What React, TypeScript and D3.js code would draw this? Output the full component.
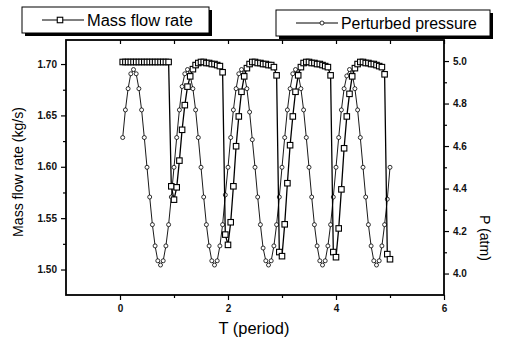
import React, { useRef, useEffect } from 'react';
import * as d3 from 'd3';

// time grid, T (period)
const periods = [
  0.05, 0.1, 0.15, 0.2, 0.25, 0.3, 0.35, 0.4, 0.45, 0.5, 0.55, 0.6, 0.65, 0.7, 0.75, 0.8, 0.85, 0.9, 0.95, 1.0,
  1.05, 1.1, 1.15, 1.2, 1.25, 1.3, 1.35, 1.4, 1.45, 1.5, 1.55, 1.6, 1.65, 1.7, 1.75, 1.8, 1.85, 1.9, 1.95, 2.0,
  2.05, 2.1, 2.15, 2.2, 2.25, 2.3, 2.35, 2.4, 2.45, 2.5, 2.55, 2.6, 2.65, 2.7, 2.75, 2.8, 2.85, 2.9, 2.95, 3.0,
  3.05, 3.1, 3.15, 3.2, 3.25, 3.3, 3.35, 3.4, 3.45, 3.5, 3.55, 3.6, 3.65, 3.7, 3.75, 3.8, 3.85, 3.9, 3.95, 4.0,
  4.05, 4.1, 4.15, 4.2, 4.25, 4.3, 4.35, 4.4, 4.45, 4.5, 4.55, 4.6, 4.65, 4.7, 4.75, 4.8, 4.85, 4.9, 4.95, 5.0,
];

// mass flow rate (kg/s)
const massFlow = [
  1.702, 1.702, 1.702, 1.702, 1.702, 1.702, 1.702, 1.702, 1.702, 1.702, 1.702, 1.702, 1.702, 1.702, 1.702, 1.702, 1.702, 1.702, 1.581, 1.568,
  1.580, 1.606, 1.636, 1.660, 1.678, 1.688, 1.695, 1.699, 1.701, 1.702, 1.702, 1.701, 1.701, 1.700, 1.700, 1.699, 1.698, 1.692, 1.534, 1.524,
  1.546, 1.581, 1.620, 1.649, 1.673, 1.688, 1.696, 1.700, 1.702, 1.702, 1.701, 1.701, 1.700, 1.700, 1.699, 1.699, 1.697, 1.689, 1.517, 1.513,
  1.544, 1.584, 1.621, 1.649, 1.673, 1.689, 1.697, 1.701, 1.702, 1.702, 1.701, 1.701, 1.700, 1.700, 1.699, 1.698, 1.697, 1.689, 1.517, 1.512,
  1.540, 1.578, 1.618, 1.649, 1.671, 1.688, 1.696, 1.700, 1.702, 1.702, 1.701, 1.701, 1.700, 1.700, 1.699, 1.698, 1.697, 1.690, 1.515, 1.510,
];

// perturbed pressure (atm)
const pressure = [
  4.64, 4.77, 4.87, 4.94, 4.96, 4.94, 4.87, 4.77, 4.64, 4.50, 4.36, 4.23, 4.13, 4.06, 4.04, 4.06, 4.13, 4.23, 4.36, 4.50,
  4.64, 4.77, 4.88, 4.94, 4.96, 4.93, 4.87, 4.77, 4.64, 4.50, 4.36, 4.23, 4.13, 4.06, 4.04, 4.06, 4.13, 4.23, 4.37, 4.50,
  4.64, 4.77, 4.87, 4.94, 4.96, 4.94, 4.87, 4.76, 4.63, 4.50, 4.36, 4.23, 4.12, 4.06, 4.04, 4.06, 4.13, 4.23, 4.36, 4.50,
  4.64, 4.77, 4.87, 4.94, 4.96, 4.94, 4.87, 4.77, 4.64, 4.50, 4.36, 4.23, 4.13, 4.06, 4.04, 4.06, 4.13, 4.23, 4.36, 4.50,
  4.64, 4.77, 4.87, 4.93, 4.96, 4.94, 4.87, 4.77, 4.64, 4.50, 4.36, 4.23, 4.13, 4.06, 4.04, 4.06, 4.13, 4.23, 4.35, 4.50,
];

const xTicks = [0, 2, 4, 6];
const xMinorTicks = [1, 3, 5];
const flowTicks = [1.5, 1.55, 1.6, 1.65, 1.7];
const flowMinorTicks = [1.525, 1.575, 1.625, 1.675];
const pressureTicks = [4.0, 4.2, 4.4, 4.6, 4.8, 5.0];
const pressureMinorTicks = [4.1, 4.3, 4.5, 4.7, 4.9];

const W = 509;
const H = 343;
const FONT = 'Arial, "Liberation Sans", Helvetica, sans-serif';

// shrink/grow a text node's font size so it spans roughly `target` px
const fitText = (sel: any, size: number, target: number) => {
  const node = sel.node() as SVGTextElement;
  const w = node.getComputedTextLength();
  if (w > 0) sel.attr('font-size', (size * target) / w);
  return sel;
};

const App = () => {
  const ref = useRef<SVGSVGElement | null>(null);

  useEffect(() => {
    if (!ref.current) return;
    const svg = d3.select(ref.current);
    svg.selectAll('*').remove();

    const left = 66, right = 444, top = 40, bottom = 295;

    const x = d3.scaleLinear().domain([-1, 6]).range([left, right]);
    const yFlow = d3.scaleLinear().domain([1.4752, 1.7234]).range([bottom, top]);
    const yP = d3.scaleLinear().domain([3.899, 5.099]).range([bottom, top]);

    const styleAxis = (g: any) => {
      g.select('.domain').remove();
      g.selectAll('line').attr('stroke', '#000').attr('stroke-width', 1.2);
      g.selectAll('text')
        .attr('font-family', FONT)
        .attr('font-size', 10)
        .attr('font-weight', 'bold')
        .attr('fill', '#111');
    };

    // left axis
    svg.append('g')
      .attr('transform', `translate(${left},0)`)
      .call(d3.axisLeft(yFlow).tickValues(flowTicks).tickSize(5).tickPadding(4).tickFormat(d3.format('.2f')))
      .call(styleAxis);
    svg.append('g')
      .attr('transform', `translate(${left},0)`)
      .call(d3.axisLeft(yFlow).tickValues(flowMinorTicks).tickSize(3).tickFormat(() => ''))
      .call(styleAxis);

    // right axis
    svg.append('g')
      .attr('transform', `translate(${right},0)`)
      .call(d3.axisRight(yP).tickValues(pressureTicks).tickSize(5).tickPadding(4).tickFormat(d3.format('.1f')))
      .call(styleAxis);
    svg.append('g')
      .attr('transform', `translate(${right},0)`)
      .call(d3.axisRight(yP).tickValues(pressureMinorTicks).tickSize(3).tickFormat(() => ''))
      .call(styleAxis);

    // bottom axis
    svg.append('g')
      .attr('transform', `translate(0,${bottom})`)
      .call(d3.axisBottom(x).tickValues(xTicks).tickSize(5).tickPadding(5).tickFormat(d3.format('d')))
      .call(styleAxis);
    svg.append('g')
      .attr('transform', `translate(0,${bottom})`)
      .call(d3.axisBottom(x).tickValues(xMinorTicks).tickSize(3).tickFormat(() => ''))
      .call(styleAxis);

    // top axis, inward ticks
    svg.append('g')
      .attr('transform', `translate(0,${top})`)
      .call(d3.axisBottom(x).tickValues([...xTicks, ...xMinorTicks]).tickSize(4).tickFormat(() => ''))
      .call(styleAxis);

    // frame
    svg.append('rect')
      .attr('x', left).attr('y', top)
      .attr('width', right - left).attr('height', bottom - top)
      .attr('fill', 'none').attr('stroke', '#000').attr('stroke-width', 1.8);

    // pressure series
    const pLine = d3.line<number>().x((_, i) => x(periods[i])).y(d => yP(d));
    svg.append('path')
      .datum(pressure)
      .attr('d', pLine)
      .attr('fill', 'none').attr('stroke', '#000').attr('stroke-width', 0.9);
    svg.append('g').selectAll('circle')
      .data(pressure)
      .enter()
      .append('circle')
      .attr('cx', (_, i) => x(periods[i]))
      .attr('cy', d => yP(d))
      .attr('r', 2)
      .attr('fill', '#fff').attr('stroke', '#000').attr('stroke-width', 0.8);

    // mass flow series
    const fLine = d3.line<number>().x((_, i) => x(periods[i])).y(d => yFlow(d));
    svg.append('path')
      .datum(massFlow)
      .attr('d', fLine)
      .attr('fill', 'none').attr('stroke', '#000').attr('stroke-width', 1.3);
    const sq = 5.5;
    svg.append('g').selectAll('rect')
      .data(massFlow)
      .enter()
      .append('rect')
      .attr('x', (_, i) => x(periods[i]) - sq / 2)
      .attr('y', d => yFlow(d) - sq / 2)
      .attr('width', sq).attr('height', sq)
      .attr('fill', '#fff').attr('stroke', '#000').attr('stroke-width', 1.1);

    // axis titles
    fitText(svg.append('text')
      .attr('transform', 'translate(23,172) rotate(-90)')
      .attr('text-anchor', 'middle')
      .attr('font-family', FONT).attr('font-size', 14)
      .text('Mass flow rate (kg/s)'), 14, 130);
    fitText(svg.append('text')
      .attr('transform', 'translate(480,238) rotate(90)')
      .attr('text-anchor', 'middle')
      .attr('font-family', FONT).attr('font-size', 14)
      .text('P (atm)'), 14, 46);
    fitText(svg.append('text')
      .attr('x', 254).attr('y', 334)
      .attr('text-anchor', 'middle')
      .attr('font-family', FONT).attr('font-size', 15)
      .text('T (period)'), 15, 71);

    // legends
    const legend = (bx: number, by: number, bw: number, bh: number, label: string, square: boolean, textW: number) => {
      const g = svg.append('g');
      g.append('rect').attr('x', bx + 3).attr('y', by + 3).attr('width', bw).attr('height', bh).attr('fill', '#000');
      g.append('rect').attr('x', bx).attr('y', by).attr('width', bw).attr('height', bh)
        .attr('fill', '#fff').attr('stroke', '#000').attr('stroke-width', 1);
      const cy = by + bh / 2;
      g.append('line').attr('x1', bx + 20).attr('x2', bx + 62).attr('y1', cy).attr('y2', cy)
        .attr('stroke', '#000').attr('stroke-width', 1);
      if (square) {
        g.append('rect').attr('x', bx + 38 - 2.75).attr('y', cy - 2.75).attr('width', 5.5).attr('height', 5.5)
          .attr('fill', '#fff').attr('stroke', '#000').attr('stroke-width', 1.1);
      } else {
        g.append('circle').attr('cx', bx + 46).attr('cy', cy).attr('r', 2)
          .attr('fill', '#fff').attr('stroke', '#000').attr('stroke-width', 0.8);
      }
      fitText(g.append('text').attr('x', bx + 65).attr('y', cy + 5.5)
        .attr('font-family', FONT).attr('font-size', 16)
        .text(label), 16, textW);
    };
    legend(22, 7, 187, 26, 'Mass flow rate', true, 106);
    legend(276, 10, 214, 26, 'Perturbed pressure', false, 136);
  }, []);

  return (
    <svg ref={ref} width={W} height={H} style={{ position: 'absolute', left: 0, top: 0, background: '#fff' }}></svg>
  );
};

export default App;
